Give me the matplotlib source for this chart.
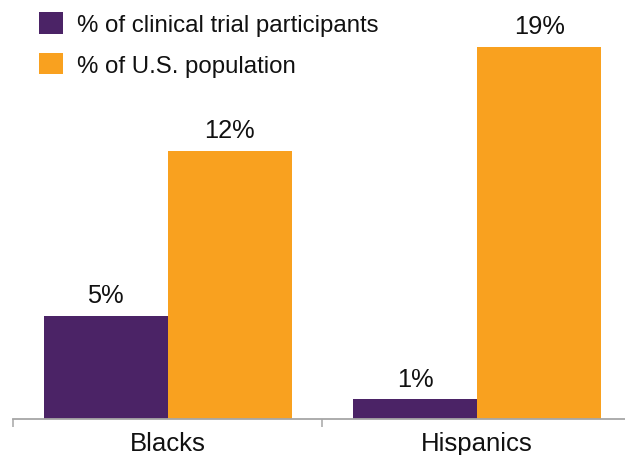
import matplotlib.pyplot as plt
import numpy as np
from matplotlib.patches import Patch


# 数据：两组人群，参与者比例与美国人口比例
categories = ["Blacks", "Hispanics"]
trial_values = [5.25, 1.0]
population_values = [13.7, 19.0]
trial_labels = ["5%", "1%"]
population_labels = ["12%", "19%"]
series_names = ["% of clinical trial participants", "% of U.S. population"]

PURPLE = "#4b2366"
ORANGE = "#f9a11f"
AXIS_GRAY = "#a6a6a6"

plt.rcParams["font.family"] = ["Liberation Sans", "DejaVu Sans"]

W, H = 625, 456
fig = plt.figure(figsize=(W / 100, H / 100), dpi=100)

# 坐标区域：x 方向从 13px 到 632px，y=0 在 420px
ax = fig.add_axes([13 / W, (H - 420) / H, 619 / W, 420 / H])

x = np.arange(len(categories))
bar_width = 0.4

bars_trial = ax.bar(x - bar_width / 2, trial_values, bar_width, color=PURPLE, linewidth=0)
bars_pop = ax.bar(x + bar_width / 2, population_values, bar_width, color=ORANGE, linewidth=0)

# 柱顶数值标签
for bars, labels in [(bars_trial, trial_labels), (bars_pop, population_labels)]:
    for rect, text in zip(bars, labels):
        ax.annotate(
            text,
            (rect.get_x() + rect.get_width() / 2, rect.get_height()),
            xytext=(0, 10),
            textcoords="offset points",
            ha="center",
            va="baseline",
            fontsize=18.3,
            color="#111111",
        )

ax.set_xlim(-0.5, 1.5)
ax.set_ylim(0, 420 / (372 / 19.0))

# 只保留底部坐标轴
for side in ["top", "right", "left"]:
    ax.spines[side].set_visible(False)
ax.spines["bottom"].set_color(AXIS_GRAY)
ax.spines["bottom"].set_linewidth(1.3)
ax.set_yticks([])

# 主刻度在分组边界，分类名称放在次刻度上
ax.set_xticks([-0.5, 0.5, 1.5])
ax.set_xticklabels([])
ax.tick_params(axis="x", which="major", length=6, width=1.1, color=AXIS_GRAY)
ax.set_xticks(x, minor=True)
ax.set_xticklabels(categories, minor=True, fontsize=18.5, color="#111111")
ax.tick_params(axis="x", which="minor", length=0, pad=9)

# 图例
handles = [Patch(color=PURPLE, linewidth=0), Patch(color=ORANGE, linewidth=0)]
fig.legend(
    handles,
    series_names,
    loc="upper left",
    bbox_to_anchor=(39 / W, 1 - 13 / H),
    frameon=False,
    fontsize=17.3,
    handlelength=1.0,
    handleheight=1.0,
    handletextpad=0.6,
    labelspacing=0.7,
    borderpad=0,
    borderaxespad=0,
    labelcolor="#111111",
)

fig.savefig("out.png", dpi=100)
